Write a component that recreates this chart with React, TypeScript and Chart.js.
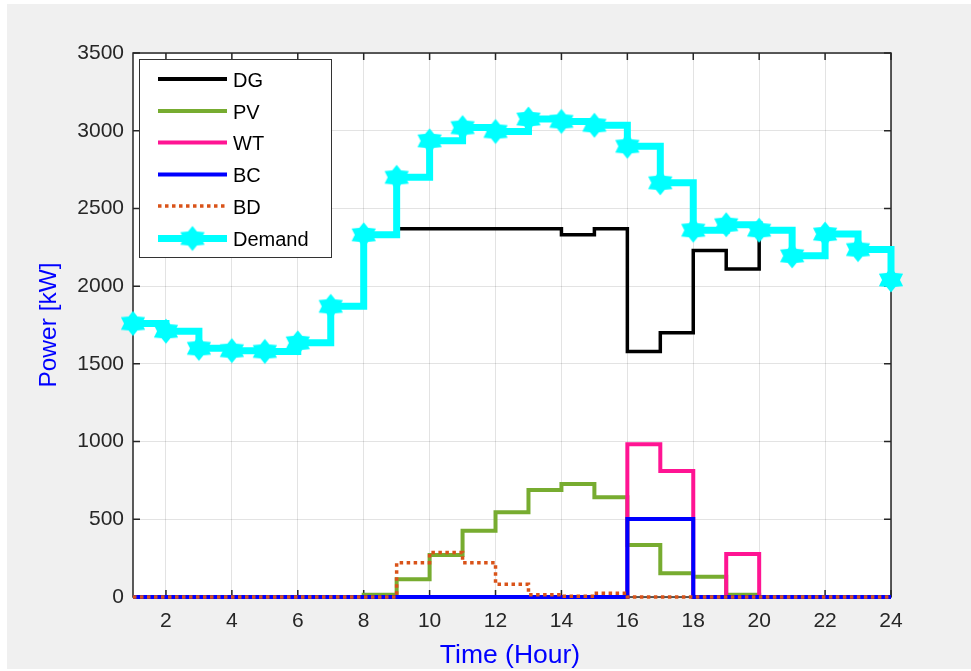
import React, { useEffect, useRef } from 'react';
import { Chart, registerables } from 'chart.js';

Chart.register(...registerables);

// ---------------- data ----------------
const hours = [1, 2, 3, 4, 5, 6, 7, 8, 9, 10, 11, 12, 13, 14, 15, 16, 17, 18, 19, 20, 21, 22, 23, 24];
const xTickValues = [2, 4, 6, 8, 10, 12, 14, 16, 18, 20, 22, 24];
const yTickValues = [0, 500, 1000, 1500, 2000, 2500, 3000, 3500];

const demand = [1760, 1710, 1600, 1585, 1580, 1635, 1870, 2330, 2700, 2935, 3020, 2995, 3075, 3060, 3035, 2900, 2665, 2360, 2395, 2360, 2195, 2335, 2235, 2040];
const dg = [1760, 1710, 1600, 1585, 1580, 1635, 1870, 2330, 2370, 2370, 2370, 2370, 2370, 2330, 2370, 1580, 1700, 2230, 2110, 2360, 2195, 2335, 2235, 2040];
const pv = [0, 0, 0, 0, 0, 0, 0, 15, 114, 270, 427, 545, 688, 727, 641, 335, 152, 131, 15, 0, 0, 0, 0, 0];
const wt = [0, 0, 0, 0, 0, 0, 0, 0, 0, 0, 0, 0, 0, 0, 0, 982, 811, 0, 277, 0, 0, 0, 0, 0];
const bc = [0, 0, 0, 0, 0, 0, 0, 0, 0, 0, 0, 0, 0, 0, 0, 502, 502, 0, 0, 0, 0, 0, 0, 0];
const bd = [0, 0, 0, 0, 0, 0, 0, 0, 221, 287, 221, 82, 15, 5, 24, 0, 0, 0, 0, 0, 0, 0, 0, 0];

const seriesLabels = ['DG', 'PV', 'WT', 'BC', 'BD', 'Demand'];
const seriesColors = ['#000000', '#77AC30', '#FF1493', '#0000FF', '#D95319', '#00FFFF'];

const xTitle = 'Time (Hour)';
const yTitle = 'Power [kW]';

// ---------------- helpers ----------------
const FONT = '"Liberation Sans", Arial, Helvetica, sans-serif';
const AXIS_COLOR = '#262626';

function makeStar(): HTMLCanvasElement {
  const c = document.createElement('canvas');
  c.width = 28;
  c.height = 28;
  const ctx = c.getContext('2d')!;
  ctx.translate(14, 14);
  ctx.scale(1.12, 1);
  const R = 12.5;
  const r = R * 0.64;
  ctx.beginPath();
  for (let i = 0; i < 12; i++) {
    const ang = -Math.PI / 2 + (i * Math.PI) / 6;
    const rad = i % 2 === 0 ? R : r;
    const px = rad * Math.cos(ang);
    const py = rad * Math.sin(ang);
    if (i === 0) ctx.moveTo(px, py);
    else ctx.lineTo(px, py);
  }
  ctx.closePath();
  ctx.fillStyle = '#00FFFF';
  ctx.fill();
  return c;
}

export default function App() {
  const canvasRef = useRef<HTMLCanvasElement | null>(null);

  useEffect(() => {
    const canvas = canvasRef.current;
    if (!canvas) return;
    const star = makeStar();

    const series = [dg, pv, wt, bc, bd, demand];
    const widths = [3.5, 4, 4, 4, 3.5, 7];
    const datasets = series.map((arr, i) => {
      const base: any = {
        label: seriesLabels[i],
        data: hours.map((h, k) => ({ x: h, y: arr[k] })),
        borderColor: seriesColors[i],
        backgroundColor: seriesColors[i],
        borderWidth: widths[i],
        stepped: 'before',
        pointRadius: 0,
        fill: false,
        clip: false,
        order: 5 - i,
        borderJoinStyle: 'miter',
        borderCapStyle: 'butt',
      };
      if (seriesLabels[i] === 'BD') {
        base.borderDash = [3.5, 3.5];
      }
      if (seriesLabels[i] === 'Demand') {
        base.pointRadius = 12;
        base.pointStyle = star;
      }
      return base;
    });

    const framePlugin = {
      id: 'matlabFrame',
      beforeDraw(chart: any) {
        const { ctx, chartArea: a } = chart;
        ctx.save();
        ctx.fillStyle = '#ffffff';
        ctx.fillRect(0, 0, chart.width, chart.height);
        ctx.fillStyle = '#f0f0f0';
        ctx.fillRect(7, 4, chart.width - 7, 665);
        ctx.fillStyle = '#ffffff';
        ctx.fillRect(a.left, a.top, a.right - a.left, a.bottom - a.top);
        ctx.restore();
      },
      beforeDatasetsDraw(chart: any) {
        const { ctx, chartArea: a, scales } = chart;
        const xs = scales.x;
        const ys = scales.y;
        ctx.save();
        ctx.strokeStyle = AXIS_COLOR;
        ctx.lineWidth = 1.5;
        ctx.beginPath();
        for (const v of xTickValues) {
          const px = xs.getPixelForValue(v);
          ctx.moveTo(px, a.bottom);
          ctx.lineTo(px, a.bottom - 7);
          ctx.moveTo(px, a.top);
          ctx.lineTo(px, a.top + 7);
        }
        for (const v of yTickValues) {
          const py = ys.getPixelForValue(v);
          ctx.moveTo(a.left, py);
          ctx.lineTo(a.left + 7, py);
          ctx.moveTo(a.right, py);
          ctx.lineTo(a.right - 7, py);
        }
        ctx.stroke();
        ctx.strokeRect(a.left, a.top, a.right - a.left, a.bottom - a.top);
        ctx.restore();
      },
      afterDraw(chart: any) {
        const { ctx, chartArea: a } = chart;
        ctx.save();
        // axis titles
        ctx.fillStyle = '#0000FF';
        ctx.font = `26.5px ${FONT}`;
        ctx.textAlign = 'center';
        ctx.textBaseline = 'alphabetic';
        ctx.fillText(xTitle, (a.left + a.right) / 2 - 2, 663);
        ctx.save();
        ctx.translate(56, (a.top + a.bottom) / 2);
        ctx.rotate(-Math.PI / 2);
        ctx.font = `24.5px ${FONT}`;
        ctx.fillText(yTitle, 0, 0);
        ctx.restore();

        // legend
        const lx = 139.5;
        const ly = 59.5;
        const lw = 192;
        const lh = 198;
        ctx.fillStyle = '#ffffff';
        ctx.fillRect(lx, ly, lw, lh);
        ctx.strokeStyle = '#333333';
        ctx.lineWidth = 1;
        ctx.strokeRect(lx, ly, lw, lh);
        const centers = [79, 111, 142.5, 174.5, 206, 238.5];
        ctx.font = `20px ${FONT}`;
        ctx.textAlign = 'left';
        ctx.textBaseline = 'alphabetic';
        seriesLabels.forEach((lab, i) => {
          const cy = centers[i];
          ctx.save();
          ctx.strokeStyle = seriesColors[i];
          ctx.lineWidth = lab === 'Demand' ? 7 : lab === 'BD' ? 3.5 : 4;
          ctx.lineCap = 'butt';
          if (lab === 'BD') ctx.setLineDash([3.5, 3.5]);
          ctx.beginPath();
          ctx.moveTo(158, cy);
          ctx.lineTo(227, cy);
          ctx.stroke();
          ctx.restore();
          if (lab === 'Demand') {
            ctx.drawImage(star, 192.5 - star.width / 2, cy - star.height / 2);
          }
          ctx.fillStyle = '#000000';
          ctx.fillText(lab, 233, cy + 7.5);
        });
        ctx.restore();
      },
    };

    const tickFont = { family: FONT, size: 21 };
    const plainLabel = (v: any) => String(v);

    const chart = new Chart(canvas, {
      type: 'line',
      data: { datasets },
      options: {
        animation: false,
        responsive: false,
        devicePixelRatio: 1,
        events: [],
        layout: { padding: { left: 0, top: 53, right: 80, bottom: 0 } },
        plugins: {
          legend: { display: false },
          tooltip: { enabled: false },
        },
        scales: {
          x: {
            type: 'linear',
            min: 1,
            max: 24,
            afterBuildTicks: (s: any) => {
              s.ticks = xTickValues.map((v) => ({ value: v }));
            },
            afterFit: (s: any) => {
              s.height = 74;
            },
            grid: { color: 'rgba(38,38,38,0.13)', lineWidth: 1, drawTicks: false },
            border: { display: false },
            ticks: { font: tickFont, color: AXIS_COLOR, padding: 12, maxRotation: 0, autoSkip: false, callback: plainLabel },
          },
          y: {
            type: 'linear',
            min: 0,
            max: 3500,
            afterBuildTicks: (s: any) => {
              s.ticks = yTickValues.map((v) => ({ value: v }));
            },
            afterFit: (s: any) => {
              s.width = 133;
            },
            grid: { color: 'rgba(38,38,38,0.13)', lineWidth: 1, drawTicks: false },
            border: { display: false },
            ticks: { font: tickFont, color: AXIS_COLOR, padding: 9, autoSkip: false, callback: plainLabel },
          },
        },
      } as any,
      plugins: [framePlugin],
    });

    return () => {
      chart.destroy();
    };
  }, []);

  return (
    <div style={{ position: 'absolute', left: 0, top: 0, width: 971, height: 671 }}>
      <canvas ref={canvasRef} width={971} height={671} style={{ display: 'block', width: 971, height: 671 }} />
    </div>
  );
}
